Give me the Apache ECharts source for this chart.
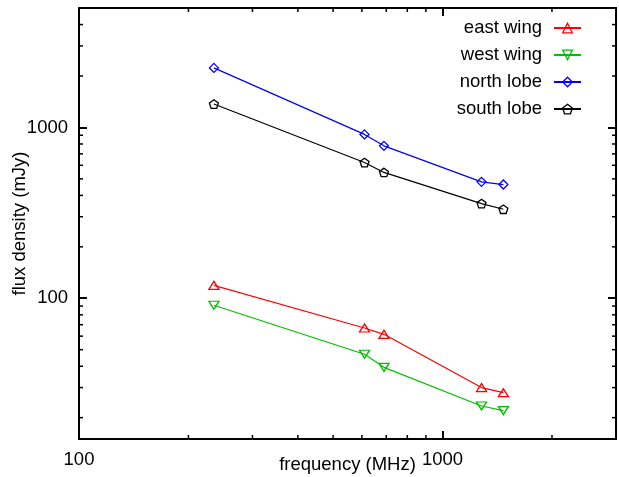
<!DOCTYPE html>
<html>
<head>
<meta charset="utf-8">
<script src="https://cdn.jsdelivr.net/npm/echarts@6/dist/echarts.min.js"></script>
<style>
  html, body { margin: 0; padding: 0; background: #fff; }
  #chart { width: 619px; height: 477px; }
</style>
</head>
<body>
<div id="chart"></div>
<script>
// Observing frequencies (MHz)
const frequencies = [235, 610, 690, 1280, 1470];

// Integrated flux densities (mJy) per source component
const eastWing  = [119, 67, 61.5, 30, 28];
const westWing  = [91, 47, 39.4, 23.4, 22];
const northLobe = [2230, 910, 780, 480, 463];
const southLobe = [1370, 623, 545, 358, 332];

const seriesNames = ['east wing', 'west wing', 'north lobe', 'south lobe'];
const seriesColors = ['#ff0000', '#00c000', '#0000ff', '#000000'];

// Axis ranges and minor tick positions (log axes)
const xRange = [100, 3000];
const yRange = [15, 5000];
const xMinorTicks = [200, 300, 400, 500, 600, 700, 800, 900, 2000, 3000];
const yMinorTicks = [20, 30, 40, 50, 60, 70, 80, 90, 200, 300, 400, 500, 600, 700, 800, 900, 2000, 3000, 4000, 5000];

const FONT = "'Liberation Sans', Arial, sans-serif";
const FS = 18.5;
const HOLLOW = 'rgba(255,255,255,0)';

const pentagon = 'path://M0,-10 L9.51,-3.09 L5.88,8.09 L-5.88,8.09 L-9.51,-3.09 Z';

function pairs(values) {
  return frequencies.map((f, i) => [f, values[i]]);
}

function lineSeries(name, values, color, symbol, size, rotate) {
  return {
    name: name,
    type: 'line',
    data: pairs(values),
    xAxisIndex: 0,
    yAxisIndex: 0,
    color: color,
    symbol: symbol,
    symbolSize: size,
    symbolRotate: rotate || 0,
    symbolKeepAspect: true,
    showAllSymbol: true,
    lineStyle: { color: color, width: 1.2 },
    itemStyle: { color: HOLLOW, borderColor: color, borderWidth: 1.3 },
    emphasis: { disabled: true },
    animation: false,
    z: 3
  };
}

function minorTickSeries(values, dir) {
  return {
    type: 'custom',
    xAxisIndex: 0,
    yAxisIndex: 0,
    silent: true,
    animation: false,
    clip: false,
    data: values.map(v => dir === 'x' ? [v, 100] : [1000, v]),
    renderItem: function (params, api) {
      const cs = params.coordSys;
      const p = api.coord([api.value(0), api.value(1)]);
      const st = { stroke: '#000', lineWidth: 1.5 };
      const L = 4;
      if (dir === 'x') {
        const b = cs.y + cs.height, t = cs.y;
        return { type: 'group', children: [
          { type: 'line', shape: { x1: p[0], y1: b, x2: p[0], y2: b - L }, style: st },
          { type: 'line', shape: { x1: p[0], y1: t, x2: p[0], y2: t + L }, style: st }
        ]};
      } else {
        const l = cs.x, r = cs.x + cs.width;
        return { type: 'group', children: [
          { type: 'line', shape: { x1: l, y1: p[1], x2: l + L, y2: p[1] }, style: st },
          { type: 'line', shape: { x1: r, y1: p[1], x2: r - L, y2: p[1] }, style: st }
        ]};
      }
    },
    z: 4
  };
}

const frameLine = { show: true, lineStyle: { color: '#000', width: 2 } };
const majorTick = { show: true, inside: true, length: 8, lineStyle: { color: '#000', width: 2 } };
const tickLabel = {
  fontFamily: FONT, fontSize: FS, color: '#000', margin: 11,
  showMinLabel: false, showMaxLabel: false,
  formatter: v => String(Math.round(v))
};

const chart = echarts.init(document.getElementById('chart'), null, { renderer: 'canvas' });

chart.setOption({
  backgroundColor: '#fff',
  animation: false,
  textStyle: { fontFamily: FONT },
  grid: { left: 79, top: 8, right: 3, bottom: 38, containLabel: false, outerBoundsMode: 'none' },
  legend: {
    data: seriesNames.map((n, i) => ({
      name: n,
      itemStyle: { color: HOLLOW, borderColor: seriesColors[i], borderWidth: 1.3 }
    })),
    orient: 'vertical',
    align: 'right',
    right: 37,
    top: 14.5,
    padding: 0,
    itemGap: 0,
    itemWidth: 27,
    itemHeight: 12,
    selectedMode: false,
    textStyle: { fontFamily: FONT, fontSize: FS, color: '#000', lineHeight: 27, padding: [0, 7, 0, 0] }
  },
  xAxis: [
    {
      type: 'log', logBase: 10, min: xRange[0], max: xRange[1], position: 'bottom',
      name: 'frequency (MHz)', nameLocation: 'middle', nameGap: 16, nameMoveOverlap: false,
      nameTextStyle: { fontFamily: FONT, fontSize: FS, color: '#000' },
      axisLine: frameLine, axisTick: majorTick,
      axisLabel: Object.assign({}, tickLabel, { showMinLabel: true }),
      splitLine: { show: false }, minorTick: { show: false }
    },
    {
      type: 'log', logBase: 10, min: xRange[0], max: xRange[1], position: 'top',
      axisLine: frameLine, axisTick: majorTick,
      axisLabel: { show: false }, splitLine: { show: false }
    }
  ],
  yAxis: [
    {
      type: 'log', logBase: 10, min: yRange[0], max: yRange[1], position: 'left',
      name: 'flux density (mJy)', nameLocation: 'middle', nameGap: 50, nameRotate: 90, nameMoveOverlap: false,
      nameTextStyle: { fontFamily: FONT, fontSize: FS, color: '#000' },
      axisLine: frameLine, axisTick: majorTick,
      axisLabel: tickLabel,
      splitLine: { show: false }
    },
    {
      type: 'log', logBase: 10, min: yRange[0], max: yRange[1], position: 'right',
      axisLine: frameLine, axisTick: majorTick,
      axisLabel: { show: false }, splitLine: { show: false }
    }
  ],
  series: [
    lineSeries(seriesNames[0], eastWing, seriesColors[0], 'triangle', [10, 8], 0),
    lineSeries(seriesNames[1], westWing, seriesColors[1], 'triangle', [10, 8], 180),
    lineSeries(seriesNames[2], northLobe, seriesColors[2], 'diamond', [9, 9], 0),
    lineSeries(seriesNames[3], southLobe, seriesColors[3], pentagon, [9, 9], 0),
    minorTickSeries(xMinorTicks, 'x'),
    minorTickSeries(yMinorTicks, 'y')
  ]
});
</script>
</body>
</html>
